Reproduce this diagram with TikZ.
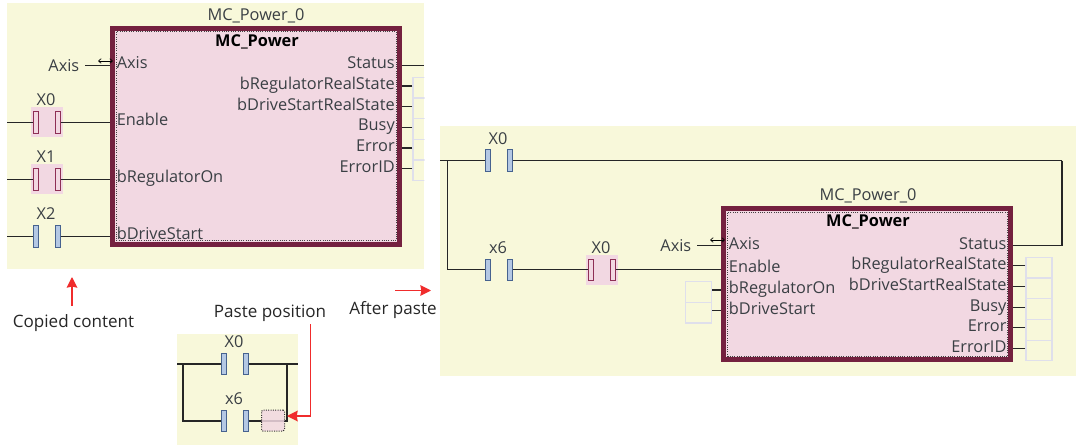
\documentclass[tikz,border=0pt]{standalone}
\usepackage{fontspec}
\setmainfont{Open Sans}
\usepackage{tikz}
\usetikzlibrary{arrows.meta,positioning}
\definecolor{panelbg}{HTML}{F8F8DA}
\definecolor{blockbd}{HTML}{74213F}
\definecolor{blockbg}{HTML}{F2D8E2}
\definecolor{plateblue}{HTML}{B4C8E4}
\definecolor{plateedge}{HTML}{46628F}
\definecolor{platered}{HTML}{8E2F55}
\definecolor{slotgray}{HTML}{DFDFEB}
\definecolor{txtgray}{HTML}{3A3F44}
\definecolor{redarrow}{HTML}{F02C2C}

\begin{document}
\begin{tikzpicture}[
  x=0.75pt, y=-0.75pt,
  panel/.style={fill=panelbg, draw=none, inner sep=0pt},
  block/.style={
    draw=blockbd, line width=3.75pt, fill=blockbg,
    minimum width=215.25pt, inner sep=0pt
  },
  dots/.style={
    draw=black!75, densely dotted, line width=0.7pt,
    minimum width=209.8pt, inner sep=0pt
  },
  pinl/.style={font=\fontsize{12.25}{14}\selectfont, text=txtgray, anchor=base west, inner sep=0pt},
  pinr/.style={font=\fontsize{12.25}{14}\selectfont, text=txtgray, anchor=base east, inner sep=0pt},
  title/.style={font=\fontsize{12.25}{14}\selectfont, text=txtgray, anchor=base, inner sep=0pt},
  head/.style={font=\fontsize{12.25}{14}\selectfont\bfseries, text=black, anchor=base, inner sep=0pt},
  note/.style={font=\fontsize{12.8}{15}\selectfont, text=black!85, inner sep=0pt},
  plate/.style={
    draw=plateedge, fill=plateblue, line width=0.6pt,
    minimum width=3.2pt, minimum height=16.2pt, inner sep=0pt
  },
  platep/.style={plate, draw=platered, fill=blockbg},
  glow/.style={fill=blockbg, minimum width=24pt, minimum height=22.5pt, inner sep=0pt},
  slot/.style={
    draw=slotgray, line width=0.9pt,
    minimum width=19.6pt, minimum height=15.5pt, inner sep=0pt
  },
  wire/.style={draw=black!85, line width=0.8pt},
  dbl/.style={{Straight Barb[length=2pt,width=3.5pt]}-{Straight Barb[length=2pt,width=3.5pt]},black,line width=0.5pt},
  redarr/.style={-{Stealth[length=8pt,width=8pt,inset=0.8pt]},redarrow,line width=1.1pt},
]
\useasboundingbox (0,0) rectangle (1077,445);

\node[panel, minimum width=312.75pt, minimum height=199.5pt] (panelA) at (215.5,136) {};
\node[panel, minimum width=90.75pt, minimum height=83.25pt] (panelB) at (237.5,389.5) {};
\node[panel, minimum width=477pt, minimum height=187.5pt] (panelC) at (758,251) {};

\node[glow] (glowA) at (47,122.3) {};
\node[glow] (glowB) at (47,179.3) {};
\node[glow] (glowC) at (602,269.7) {};

\node[block, minimum height=162pt] (blockA) at (255.5,136.5) {};
\node[dots, minimum height=156.5pt] (innerA) at (256.2,136.3) {};
\node[block, minimum height=113.25pt] (blockC) at (867.3,284.3) {};
\node[dots, minimum height=108.5pt] (innerC) at (867.5,284.6) {};

\foreach \nm/\x/\y/\lab/\sty in {
  ax/36/122.3/X0/platep, ay/36/179.3/X1/platep, az/36/236.3/X2/plate,
  bx/224/364/X0/plate, by/224/421/x6/plate,
  cx/488/160.7/X0/plate, cy/488/269.7/x6/plate, cz/591/269.7/X0/platep}{
  \node[\sty] (\nm1) at (\x,\y) {};
  \node[\sty] (\nm2) at (\x+22,\y) {};
  \node[title] (\nm t) at (\x+10,\y-16.5) {\lab};
}

\node[title] (titleA) at (256,20.7) {MC\_Power\_0};
\node[head] (nameA) at (257,46.7) {MC\_Power};
\node[pinl] (aAxis) at (116.5,68.8) {Axis};
\node[pinl] (aEnable) at (116.5,126) {Enable};
\node[pinl] (aReg) at (116.5,183) {bRegulatorOn};
\node[pinl] (aDrive) at (116.5,240) {bDriveStart};
\node[pinr] (axisA) at (79.5,71.7) {Axis};

\node[title] (titleC) at (868,200.3) {MC\_Power\_0};
\node[head] (nameC) at (868,226.7) {MC\_Power};
\node[pinl] (cAxis) at (728.7,249) {Axis};
\node[pinl] (cEnable) at (728.7,272.7) {Enable};
\node[pinl] (cReg) at (728.7,293.3) {bRegulatorOn};
\node[pinl] (cDrive) at (728.7,314) {bDriveStart};
\node[pinr] (axisC) at (691.5,252) {Axis};

\begin{scope}
\clip (panelA.north west) rectangle (panelA.south east);
\foreach \nm/\y in {b/86, d/106.7, u/127.3, e/148, i/168.7}{
  \node[slot] (as\nm) at (426,\y+1.6) {};
}
\end{scope}
\foreach \nm/\lab/\y in {
  b/bRegulatorRealState/86, d/bDriveStartRealState/106.7, u/Busy/127.3,
  e/Error/148, i/ErrorID/168.7}{
  \node[pinr] (al\nm) at (395,\y+3.7) {\lab};
  \draw[wire] ([yshift=1.2pt]as\nm.west) -- ([yshift=1.2pt]as\nm.west -| blockA.east);
}
\node[pinr] (aStatus) at (395,69) {Status};

\foreach \nm/\lab/\y in {
  b/bRegulatorRealState/265.7, d/bDriveStartRealState/286.4, u/Busy/307.1,
  e/Error/327.8, i/ErrorID/348.5}{
  \node[slot] (cs\nm) at (1039,\y+2) {};
  \node[pinr] (cl\nm) at (1006.7,\y+3.9) {\lab};
  \draw[wire] ([yshift=1.5pt]cs\nm.west) -- ([yshift=1.5pt]cs\nm.west -| blockC.east);
}
\node[pinr] (cStatus) at (1006.7,249) {Status};

\node[slot] (cin1) at (698.7,292) {};
\node[slot] (cin2) at (698.7,312.7) {};

\coordinate (ainx) at (7,122.3);
\coordinate (ainy) at (7,179.3);
\coordinate (ainz) at (7,236.3);
\coordinate (aout) at (424,65.5);
\draw[wire] (ainx) -- (ax1.west);
\draw[wire] (ainy) -- (ay1.west);
\draw[wire] (ainz) -- (az1.west);
\draw[wire] (ax2.east) -- (ax2.east -| blockA.west);
\draw[wire] (ay2.east) -- (ay2.east -| blockA.west);
\draw[wire] (az2.east) -- (az2.east -| blockA.west);
\draw[wire] (aout) -- (aout -| blockA.east);
\coordinate (aaxis) at (85,65.3);
\draw[wire] (aaxis) -- (aaxis -| blockA.west);
\coordinate (aarr1) at (98,61);
\coordinate (aarr2) at (113,61);
\draw[dbl] (aarr1) -- (aarr2);

\coordinate (binl) at (177,364);
\coordinate (binr) at (298,364);
\coordinate (bjl) at (183,364);
\coordinate (bjr) at (287,364);
\draw[wire] (binl) -- (bx1.west);
\draw[wire] (bx2.east) -- (binr);
\draw[wire] (bjl) |- (by1.west);
\draw[wire] (by2.east) -| (bjr);
\node[draw=black!80, densely dotted, fill=blockbg, fill opacity=0.85, rounded corners=1pt, line width=0.75pt,
  minimum width=17.25pt, minimum height=15.75pt, inner sep=0pt] (bpaste) at (273,420.5) {};

\coordinate (cinl) at (440,160.7);
\coordinate (cjl) at (447.5,160.7);
\coordinate (cjr) at (1062,160.7);
\coordinate (caxis) at (697,245.3);
\coordinate (cout) at (1062,245.3);
\draw[wire] (cinl) -- (cx1.west);
\draw[wire] (cx2.east) -- (cjr);
\draw[wire] (cjl) |- (cy1.west);
\draw[wire] (cy2.east) -- (cz1.west);
\draw[wire] (cz2.east) -- (cz2.east -| blockC.west);
\draw[wire] (caxis) -- (caxis -| blockC.west);
\draw[wire] (cjr) -- (cout) -- (cout -| blockC.east);
\coordinate (carr1) at (710,240);
\coordinate (carr2) at (725,240);
\draw[dbl] (carr1) -- (carr2);
\draw[wire] ([yshift=1.5pt]cin1.east) -- ([yshift=1.5pt]cin1.east -| blockC.west);
\draw[wire] ([yshift=1.5pt]cin2.east) -- ([yshift=1.5pt]cin2.east -| blockC.west);

\node[note] (copied) at (73.5,323) {Copied content};
\node[note] (pasted) at (270,313) {Paste position};
\node[note] (after) at (393,310.5) {After paste};

\coordinate (cpa) at (72,306);
\coordinate (cpb) at (72,277);
\coordinate (afa) at (395,290.5);
\coordinate (afb) at (431,290.5);
\coordinate (psa) at (310.5,324);
\coordinate (psb) at (287,416);
\draw[redarr] (cpa) -- (cpb);
\draw[redarr] (afa) -- (afb);
\draw[redarr] (psa) |- (psb);
\end{tikzpicture}
\end{document}
